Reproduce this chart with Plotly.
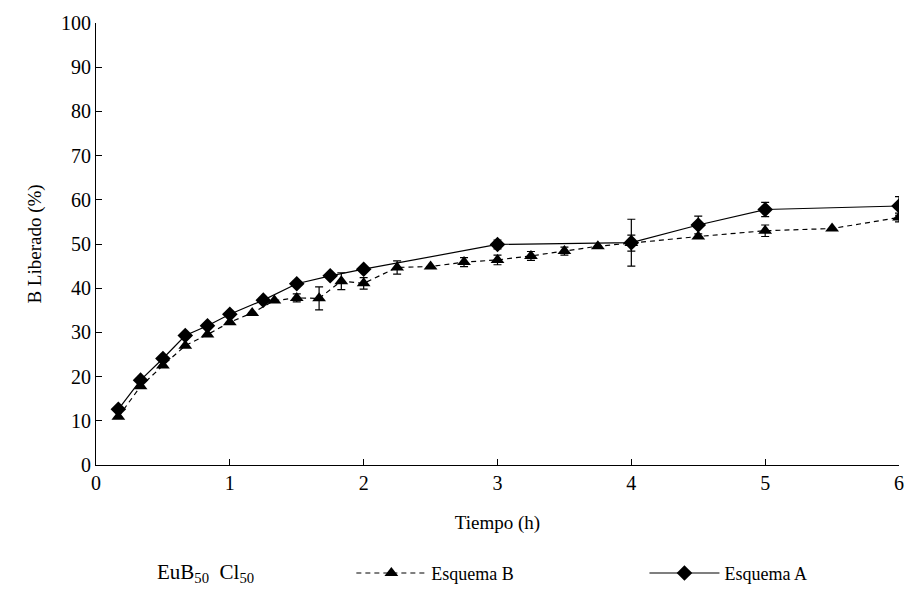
import plotly.graph_objects as go

# Esquema A (diamond, solid)
time_a = [0.167, 0.333, 0.5, 0.667, 0.833, 1.0, 1.25, 1.5, 1.75, 2.0, 3.0, 4.0, 4.5, 5.0, 6.0]
val_a = [12.6, 19.2, 24.1, 29.3, 31.5, 34.1, 37.3, 41.0, 42.8, 44.3, 49.9, 50.3, 54.3, 57.8, 58.6]
err_a = [0, 0, 0, 0, 0, 0, 0, 0, 0, 0, 1.0, 5.3, 2.0, 1.6, 2.1]

# Esquema B (triangle, dashed)
time_b = [0.167, 0.333, 0.5, 0.667, 0.833, 1.0, 1.167, 1.333, 1.5, 1.667, 1.833, 2.0,
          2.25, 2.5, 2.75, 3.0, 3.25, 3.5, 3.75, 4.0, 4.5, 5.0, 5.5, 6.0]
val_b = [10.9, 17.8, 22.5, 27.0, 29.5, 32.3, 34.4, 37.2, 37.8, 37.7, 41.6, 41.1,
         44.7, 44.9, 45.9, 46.4, 47.3, 48.4, 49.5, 50.2, 51.7, 53.0, 53.5, 56.0]
err_b = [0, 0, 0, 0, 0, 0, 0, 0, 0.9, 2.6, 1.9, 1.3,
         1.5, 0, 1.0, 1.1, 1.0, 0.9, 0, 1.8, 0, 1.3, 0, 1.0]

x_ticks = [0, 1, 2, 3, 4, 5, 6]
y_ticks = [0, 10, 20, 30, 40, 50, 60, 70, 80, 90, 100]

FONT = "Liberation Serif"

fig = go.Figure()
fig.add_trace(go.Scatter(
    x=time_b, y=val_b, name="Esquema B", mode="lines+markers", legend="legend",
    line=dict(color="black", width=1.2, dash="5px,4px"),
    marker=dict(symbol="triangle-up", size=12, color="black"),
    error_y=dict(type="data", array=err_b, visible=True, color="black", thickness=1.2, width=4),
))
fig.add_trace(go.Scatter(
    x=time_a, y=val_a, name="Esquema A", mode="lines+markers", legend="legend2",
    line=dict(color="black", width=1.2),
    marker=dict(symbol="diamond", size=12, color="black"),
    error_y=dict(type="data", array=err_a, visible=True, color="black", thickness=1.2, width=4),
))

legend_common = dict(
    orientation="h", yanchor="middle", y=-0.245, xanchor="left",
    font=dict(family=FONT, size=18, color="black"), itemwidth=70,
    bgcolor="rgba(0,0,0,0)", borderwidth=0,
)

fig.update_layout(
    width=905, height=590,
    margin=dict(l=96, r=6, t=23, b=125, autoexpand=False),
    paper_bgcolor="white", plot_bgcolor="white",
    font=dict(family=FONT, size=18, color="black"),
    showlegend=True,
    legend=dict(x=0.318, **legend_common),
    legend2=dict(x=0.683, **legend_common),
    annotations=[dict(
        text="EuB<sub>50</sub>&nbsp;&nbsp;Cl<sub>50</sub>", xref="paper", yref="paper",
        x=0.073, y=-0.245, xanchor="left", yanchor="middle", showarrow=False,
        font=dict(family=FONT, size=21, color="black"),
    )],
    xaxis=dict(
        range=[0, 6], tickvals=x_ticks, ticktext=[str(v) for v in x_ticks],
        showline=True, linecolor="black", linewidth=1.2,
        ticks="inside", ticklen=6, tickcolor="black", tickwidth=1.2,
        showgrid=False, zeroline=False, automargin=False, ticklabeloverflow="allow",
        title=dict(text="Tiempo (h)", font=dict(family=FONT, size=19, color="black"), standoff=22),
        tickfont=dict(family=FONT, size=20, color="black"),
    ),
    yaxis=dict(
        range=[0, 100], tickvals=y_ticks, ticktext=[str(v) for v in y_ticks],
        showline=True, linecolor="black", linewidth=1.2,
        ticks="inside", ticklen=6, tickcolor="black", tickwidth=1.2,
        showgrid=False, zeroline=False, automargin=False, ticklabeloverflow="allow",
        title=dict(text="B Liberado (%)", font=dict(family=FONT, size=19, color="black"), standoff=14),
        tickfont=dict(family=FONT, size=20, color="black"),
    ),
)

fig.write_html(
    "out.html",
    config={"displayModeBar": False},
    post_script="document.body.style.margin='0px';document.body.style.overflow='hidden';",
)
